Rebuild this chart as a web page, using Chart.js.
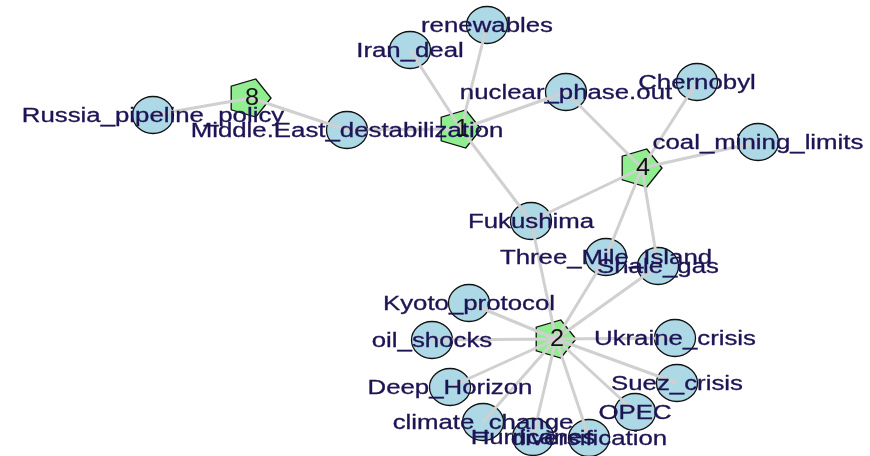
<!DOCTYPE html>
<html>
<head>
<meta charset="utf-8">
<script src="https://cdn.jsdelivr.net/npm/chart.js@4.4.1/dist/chart.umd.min.js"></script>
<style>
  html, body { margin: 0; padding: 0; background: #fff; }
  #wrap { width: 870px; height: 456px; }
</style>
</head>
<body>
<div id="wrap"><canvas id="net" width="870" height="456"></canvas></div>
<script>
// layout coordinates of the network
const hubNames = ['8', '1', '4', '2'];
const hubX = [251, 461, 642, 556];
const hubY = [98, 129, 168, 339];

const leafNames = [
    'Russia_pipeline_policy', 'Middle.East_destabilization', 'Iran_deal', 'renewables',
    'nuclear_phase.out', 'Chernobyl', 'coal_mining_limits', 'Fukushima',
    'Three_Mile_Island', 'Shale_gas', 'Kyoto_protocol', 'oil_shocks',
    'Deep_Horizon', 'climate_change', 'Hurricanes', 'diversification',
    'OPEC', 'Suez_crisis', 'Ukraine_crisis'
];
const leafX = [153, 347, 410, 487, 566, 697, 758, 531, 606, 658, 469, 432, 450, 483, 533, 589, 635, 677, 675];
const leafY = [115, 130, 50, 25, 92, 82, 142, 221, 257, 266, 303, 340, 387, 422, 437, 438, 412, 383, 338];

// edges: hub -> leaf
const edgeFrom = ['8', '8', '1', '1', '1', '1', '1',
    '4', '4', '4', '4', '4', '4',
    '2', '2', '2', '2', '2', '2', '2', '2', '2', '2', '2', '2'];
const edgeTo = ['Russia_pipeline_policy', 'Middle.East_destabilization',
    'Middle.East_destabilization', 'Iran_deal', 'renewables', 'nuclear_phase.out', 'Fukushima',
    'nuclear_phase.out', 'Chernobyl', 'coal_mining_limits', 'Fukushima', 'Three_Mile_Island', 'Shale_gas',
    'Fukushima', 'Three_Mile_Island', 'Shale_gas', 'Kyoto_protocol', 'oil_shocks', 'Deep_Horizon',
    'climate_change', 'Hurricanes', 'diversification', 'OPEC', 'Suez_crisis', 'Ukraine_crisis'];

function pos(name) {
    let i = hubNames.indexOf(name);
    if (i >= 0) return { x: hubX[i], y: hubY[i] };
    i = leafNames.indexOf(name);
    return { x: leafX[i], y: leafY[i] };
}

// marker images
function makeEllipse() {
    const c = document.createElement('canvas');
    c.width = 44; c.height = 40;
    const g = c.getContext('2d');
    g.beginPath();
    g.ellipse(22, 20, 20.5, 18.5, 0, 0, Math.PI * 2);
    g.fillStyle = '#ADD8E6';
    g.fill();
    g.lineWidth = 1.3;
    g.strokeStyle = '#111';
    g.stroke();
    return c;
}

function makePentagon() {
    const c = document.createElement('canvas');
    c.width = 46; c.height = 42;
    const g = c.getContext('2d');
    g.beginPath();
    for (let k = 0; k < 5; k++) {
        const a = k * Math.PI * 2 / 5;
        const px = 21 + 22 * Math.cos(a);
        const py = 21 + 20 * Math.sin(a);
        if (k === 0) g.moveTo(px, py); else g.lineTo(px, py);
    }
    g.closePath();
    g.fillStyle = '#90EE90';
    g.fill();
    g.lineWidth = 1.3;
    g.strokeStyle = '#111';
    g.stroke();
    return c;
}

const datasets = [];
edgeFrom.forEach((f, i) => {
    datasets.push({
        type: 'scatter',
        data: [pos(f), pos(edgeTo[i])],
        showLine: true,
        borderColor: '#d0d0d0',
        borderWidth: 3,
        pointRadius: 0
    });
});
datasets.push({
    type: 'scatter',
    data: leafX.map((x, i) => ({ x: x, y: leafY[i] })),
    pointStyle: makeEllipse(),
    pointRadius: 20
});
datasets.push({
    type: 'scatter',
    data: hubX.map((x, i) => ({ x: x, y: hubY[i] })),
    pointStyle: makePentagon(),
    pointRadius: 20
});

// vertex labels drawn on top, like igraph does
const labelPlugin = {
    id: 'vlabels',
    afterDatasetsDraw(chart) {
        const ctx = chart.ctx;
        const sx = chart.scales.x, sy = chart.scales.y;
        ctx.save();
        ctx.textAlign = 'center';
        ctx.textBaseline = 'middle';
        ctx.font = '20px "Liberation Sans", Arial, sans-serif';
        ctx.fillStyle = '#1c1454';
        ctx.strokeStyle = '#1c1454';
        ctx.lineWidth = 0.3;
        leafNames.forEach((n, i) => {
            ctx.save();
            ctx.translate(sx.getPixelForValue(leafX[i]), sy.getPixelForValue(leafY[i]) + 1);
            ctx.scale(1.29, 1);
            ctx.fillText(n, 0, 0);
            ctx.strokeText(n, 0, 0);
            ctx.restore();
        });
        ctx.font = '23px "Liberation Sans", Arial, sans-serif';
        ctx.fillStyle = '#111';
        hubNames.forEach((n, i) => {
            ctx.save();
            ctx.translate(sx.getPixelForValue(hubX[i]) + 1, sy.getPixelForValue(hubY[i]) + 1);
            ctx.scale(1.1, 1);
            ctx.fillText(n, 0, 0);
            ctx.restore();
        });
        ctx.restore();
    }
};

new Chart(document.getElementById('net'), {
    type: 'scatter',
    data: { datasets: datasets },
    options: {
        responsive: false,
        animation: false,
        layout: { padding: 0, autoPadding: false },
        scales: {
            x: { type: 'linear', min: 0, max: 870, display: false },
            y: { type: 'linear', min: 0, max: 456, reverse: true, display: false }
        },
        plugins: {
            legend: { display: false },
            tooltip: { enabled: false }
        }
    },
    plugins: [labelPlugin]
});
</script>
</body>
</html>
